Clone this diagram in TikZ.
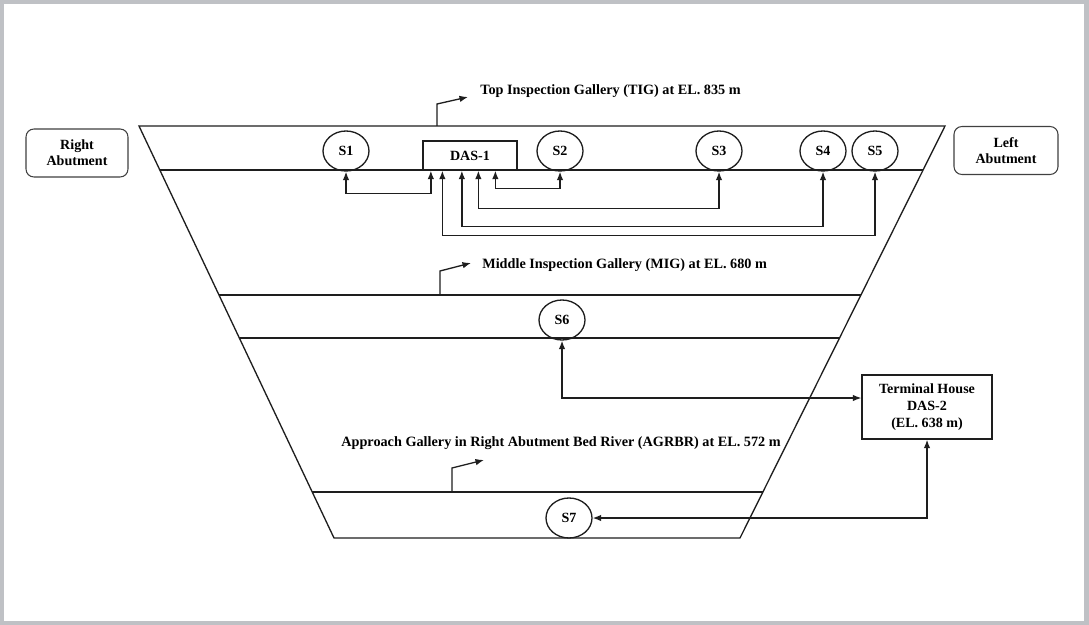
\documentclass[tikz,border=0pt]{standalone}
\usepackage{fontspec}
\setmainfont{Liberation Serif}
\usetikzlibrary{arrows.meta,positioning,calc,shapes.geometric}
\definecolor{frameg}{HTML}{BFC1C5}
\definecolor{inkd}{HTML}{1E1E1E}
\tikzset{
  sensor/.style={ellipse, draw=inkd, line width=0.75pt, minimum width=0.92cm, minimum height=0.8cm,
                 inner sep=0pt, font=\bfseries\fontsize{8}{9}\selectfont},
  dasbox/.style={rectangle, draw=inkd, line width=0.75pt, align=center, inner sep=0pt,
                 font=\bfseries\fontsize{8}{9.5}\selectfont},
  abut/.style={rectangle, rounded corners=4.5pt, draw=inkd!85, line width=0.6pt, align=center,
               inner sep=0pt, minimum height=0.96cm, font=\bfseries\fontsize{8}{9}\selectfont},
  lbl/.style={anchor=west, inner sep=0pt, font=\bfseries\fontsize{8.1}{9}\selectfont},
  biarr/.style={{Latex[length=1.7mm,width=1.3mm]}-{Latex[length=1.7mm,width=1.3mm]}, line width=0.75pt, draw=inkd},
  ldr/.style={-{Latex[length=1.7mm,width=1.3mm]}, line width=0.75pt, draw=inkd},
}

\begin{document}
\begin{tikzpicture}[x=0.02cm,y=-0.02cm]
  \useasboundingbox (0,0) rectangle (1089,625);
  % frame
  \fill[frameg] (0,0) rectangle (1089,625);
  \fill[white] (4,4) rectangle (1084,621);
  % dam section and galleries
  \draw[inkd,line width=0.75pt] (139,126) -- (945,126) -- (740,538) -- (334,538) -- cycle;
  \draw[inkd,line width=0.75pt] (160,170) -- (923,170);
  \draw[inkd,line width=0.75pt] (219,295) -- (861,295);
  \draw[inkd,line width=0.75pt] (239,338) -- (839.5,338);
  \draw[inkd,line width=0.75pt] (312,492) -- (763,492);
  \coordinate (tigfoot) at (437,126);
  \coordinate (migfoot) at (440,295);
  \coordinate (agfoot) at (452,492);

  % abutments
  \node[abut, minimum width=2.04cm] (rab) at (77,153) {Right\\Abutment};
  \node[abut, minimum width=2.08cm] (lab) at (1006,150.5) {Left\\Abutment};

  % TIG
  \node[sensor] (s1) at (346,151) {S1};
  \node[dasbox, minimum width=1.88cm, minimum height=0.58cm] (das1) at (470,155.5) {DAS-1};
  \node[sensor] (s2) at (560,151) {S2};
  \node[sensor] (s3) at (719,151) {S3};
  \node[sensor] (s4) at (823,151) {S4};
  \node[sensor] (s5) at (875,151) {S5};

  % MIG and AGRBR
  \node[sensor] (s6) at (562,320) {S6};
  \node[sensor] (s7) at (569,518) {S7};
  \node[dasbox, minimum width=2.6cm, minimum height=1.28cm] (th) at (927,407)
       {Terminal House\\DAS-2\\(EL. 638 m)};

  % gallery labels
  \node[lbl] (tig) at (480,91) {Top Inspection Gallery (TIG) at EL. 835 m};
  \node[lbl] (mig) at (482,265) {Middle Inspection Gallery (MIG) at EL. 680 m};
  \node[lbl] (agrbr) at (341,443) {Approach Gallery in Right Abutment Bed River (AGRBR) at EL. 572 m};
  \draw[ldr] (tigfoot) -- ++(0,-22) -- ++(31,-7);
  \draw[ldr] (migfoot) -- ++(0,-24) -- ++(31,-8);
  \draw[ldr] (agfoot) -- ++(0,-24) -- ++(32,-8);

  % cables to DAS-1
  \draw[biarr] ([xshift=0.17cm]das1.south west) -- ++(0,23) -| (s1.south);
  \draw[biarr] ([xshift=1.46cm]das1.south west) -- ++(0,18) -| (s2.south);
  \draw[biarr] ([xshift=1.12cm]das1.south west) -- ++(0,38) -| (s3.south);
  \draw[biarr] ([xshift=0.79cm]das1.south west) -- ++(0,56) -| (s4.south);
  \draw[biarr] ([xshift=0.40cm]das1.south west) -- ++(0,65) -| (s5.south);
  % cables to DAS-2
  \draw[biarr] (s6.south) |- ([yshift=0.18cm]th.west);
  \draw[biarr] (th.south) |- (s7.east);
\end{tikzpicture}
\end{document}
